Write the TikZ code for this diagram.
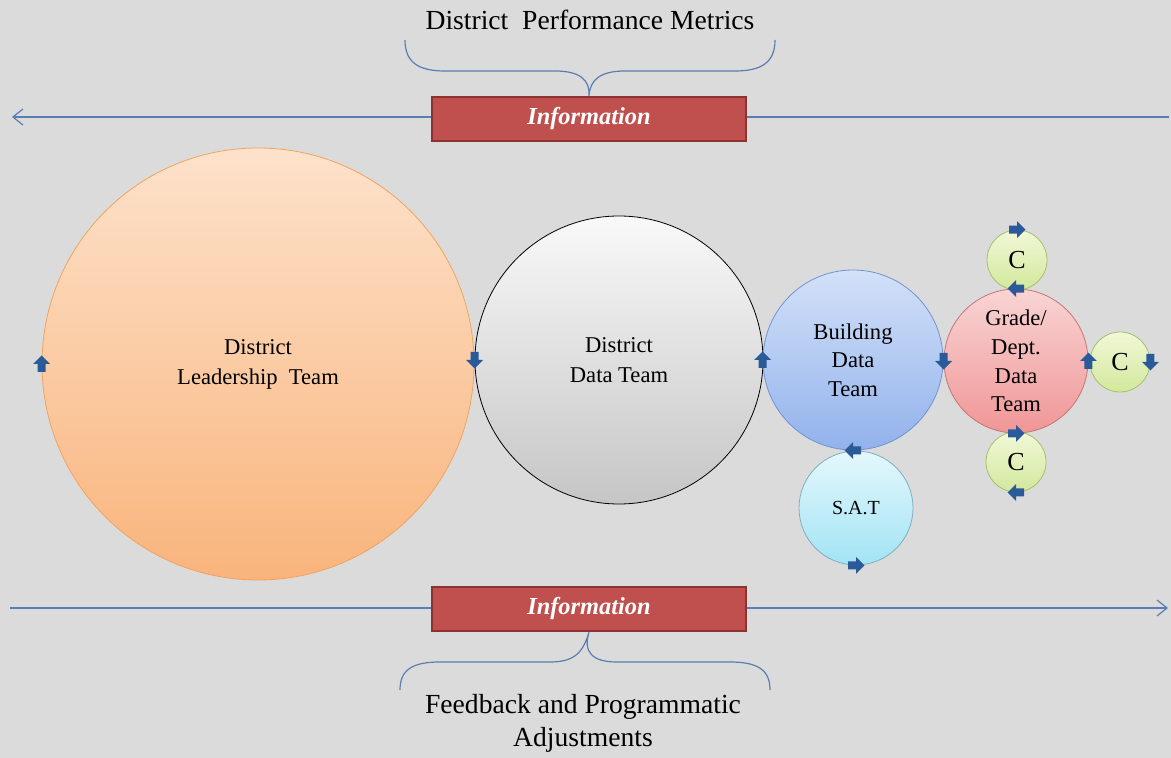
\documentclass[tikz,border=0pt]{standalone}
\usepackage{fontspec}
\setmainfont{Liberation Serif}
\usetikzlibrary{arrows.meta}

\definecolor{backgray}{HTML}{DBDBDB}
\definecolor{flowline}{HTML}{5A7DB3}
\definecolor{infored}{HTML}{C0504D}
\definecolor{infoborder}{HTML}{8C3331}
\definecolor{arrowblue}{HTML}{2B5A9A}

\tikzset{
  pics/flow arrow/.style={code={
    \fill[arrowblue] (-4pt,-2pt) -- (0pt,-2pt) -- (0pt,-4.2pt) -- (4.2pt,0pt)
      -- (0pt,4.2pt) -- (0pt,2pt) -- (-4pt,2pt) -- cycle;}}
}

\begin{document}
\begin{tikzpicture}[x=0.5pt,y=-0.5pt,
  team node/.style={circle,draw,inner sep=0pt,align=center,
    font=\fontsize{11.3}{14.3}\selectfont},
  c node/.style={team node,minimum size=30pt,draw=cgreenB,
    top color=cgreenT,bottom color=cgreenD,font=\fontsize{13}{15}\selectfont},
  info box/.style={rectangle,fill=infored,draw=infoborder,line width=1.2pt,
    minimum width=157pt,minimum height=22pt,text=white,
    font=\fontsize{12.2}{14}\selectfont\bfseries\itshape},
  flow line/.style={draw=flowline,line width=0.6pt},
  title text/.style={align=center,font=\fontsize{13.8}{16.5}\selectfont}]

  \definecolor{orangeT}{HTML}{FDE2CB}
  \definecolor{orangeD}{HTML}{F9B47C}
  \definecolor{orangeB}{HTML}{F2A35E}
  \definecolor{blueT}{HTML}{D3E1F8}
  \definecolor{blueD}{HTML}{92B2EC}
  \definecolor{blueB}{HTML}{7193D2}
  \definecolor{cyanT}{HTML}{E4F8FC}
  \definecolor{cyanD}{HTML}{A2E3F4}
  \definecolor{cyanB}{HTML}{7FAFBF}
  \definecolor{pinkT}{HTML}{F9D4D4}
  \definecolor{pinkD}{HTML}{F09696}
  \definecolor{pinkB}{HTML}{C67674}
  \definecolor{cgreenT}{HTML}{F1F8D8}
  \definecolor{cgreenD}{HTML}{D3E89C}
  \definecolor{cgreenB}{HTML}{A3C16A}

  \useasboundingbox[fill=backgray] (0,0) rectangle (1171,758);

  % information lines behind the boxes
  \coordinate (topL) at (12,117);
  \coordinate (topR) at (1169,117);
  \coordinate (botL) at (10,608);
  \coordinate (botR) at (1168,608);
  \draw[flow line,{Straight Barb[length=5pt,width=8pt]}-] (topL) -- (topR);
  \draw[flow line,-{Straight Barb[length=5pt,width=8pt]}] (botL) -- (botR);

  \node[info box] (infoTop) at (589,119) {Information};
  \node[info box] (infoBot) at (589,609) {Information};

  \node[title text] (metrics) at (590,20) {District\ \ Performance Metrics};
  \node[title text] (feedback) at (583,723) {Feedback and Programmatic\\Adjustments};

  % braces
  \draw[flow line] (405,40) .. controls (405,62) and (418,71) .. (445,71)
    -- (555,71) .. controls (580,71) and (590,80) .. (infoTop.north)
    .. controls (590,80) and (600,71) .. (625,71) -- (735,71)
    .. controls (762,71) and (775,62) .. (775,40);
  \draw[flow line] (400,690) .. controls (400,670) and (412,662) .. (440,662)
    -- (550,662) .. controls (575,662) and (583,652) .. (infoBot.south)
    .. controls (583,652) and (592,662) .. (617,662) -- (730,662)
    .. controls (758,662) and (770,670) .. (770,690);

  % teams
  \node[team node,minimum size=216pt,draw=orangeB,
    top color=orangeT,bottom color=orangeD,font=\fontsize{11.3}{15}\selectfont]
    (dlt) at (258,364) {District\\Leadership\ \ Team};
  \node[team node,minimum size=144pt,draw=black,
    top color=gray!5,bottom color=gray!45,font=\fontsize{11.3}{15}\selectfont]
    (ddt) at (619,360) {District\\Data Team};
  \node[team node,minimum size=90pt,draw=blueB,
    top color=blueT,bottom color=blueD]
    (bdt) at (853,360) {Building\\Data\\Team};
  \node[team node,minimum size=57pt,draw=cyanB,
    top color=cyanT,bottom color=cyanD,font=\fontsize{10}{12}\selectfont]
    (sat) at (856,508) {S.A.T};
  \node[team node,minimum size=72pt,draw=pinkB,
    top color=pinkT,bottom color=pinkD]
    (grade) at (1016,361) {Grade/\\Dept.\\Data\\Team};
  \node[c node] (ctop) at (1017,260) {C};
  \node[c node] (cright) at (1120,362) {C};
  \node[c node] (cbot) at (1016,462) {C};

  % small block arrows on the borders
  \pic[rotate=90] at (dlt.west) {flow arrow};
  \pic[rotate=-90] at (ddt.west) {flow arrow};
  \pic[rotate=90] at (bdt.west) {flow arrow};
  \pic[rotate=-90] at (grade.west) {flow arrow};
  \pic[rotate=90] at (grade.east) {flow arrow};
  \pic[rotate=-90] at (cright.east) {flow arrow};
  \pic at (ctop.north) {flow arrow};
  \pic[rotate=180] at (grade.north) {flow arrow};
  \pic at (grade.south) {flow arrow};
  \pic[rotate=180] at (cbot.south) {flow arrow};
  \pic[rotate=180] at (bdt.south) {flow arrow};
  \pic at (sat.south) {flow arrow};
\end{tikzpicture}
\end{document}
